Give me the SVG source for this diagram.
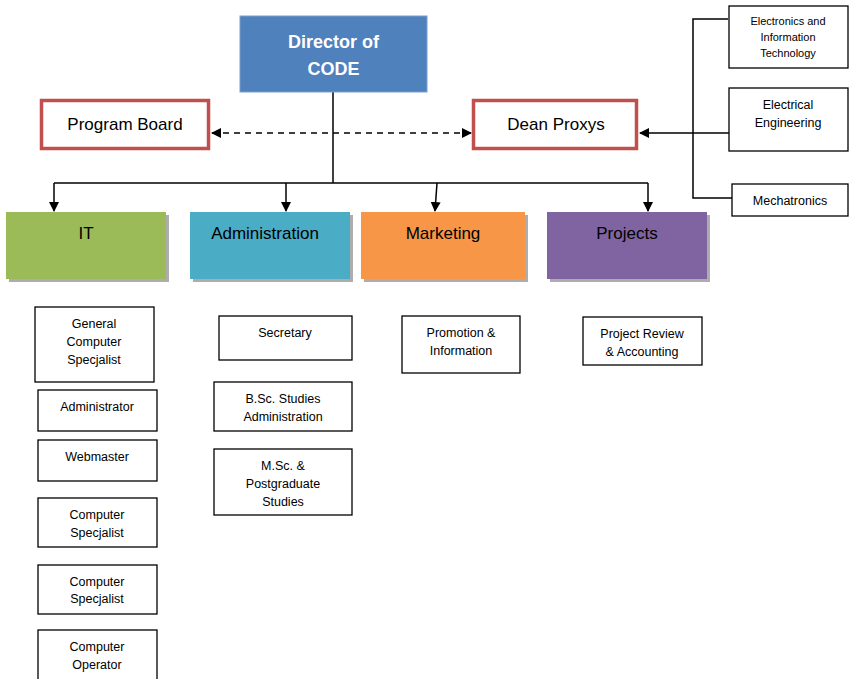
<svg xmlns="http://www.w3.org/2000/svg" width="849" height="679" viewBox="0 0 849 679">
<defs>
<style>
text{font-family:"Liberation Sans",Arial,sans-serif;text-anchor:middle;fill:#000}
.sub{fill:#fff;stroke:#000;stroke-width:1.3}
.st{font-size:12.5px}
.sm{font-size:11px}
.hd{font-size:17px}
.red{fill:#fff;stroke:#C0504D;stroke-width:3.5}
.sh{fill:#999;opacity:0.8}
.ln{fill:none;stroke:#000;stroke-width:1.5}
</style>
<marker id="ah" markerWidth="10" markerHeight="10" refX="9" refY="5" orient="auto-start-reverse" markerUnits="userSpaceOnUse">
<path d="M0,0 L10,5 L0,10 z" fill="#000"/>
</marker>
</defs>
<rect width="849" height="679" fill="#fff"/>
<g id="connectors">
<path class="ln" d="M333,92 V183"/>
<path class="ln" d="M54,183 H648"/>
<path class="ln" d="M54,183 V211" marker-end="url(#ah)"/>
<path class="ln" d="M286,183 V211" marker-end="url(#ah)"/>
<path class="ln" d="M437,183 L435,211" marker-end="url(#ah)"/>
<path class="ln" d="M648,183 V211" marker-end="url(#ah)"/>
<path class="ln" d="M471,133 H212" stroke-dasharray="6,5" marker-start="url(#ah)" marker-end="url(#ah)"/>
<path class="ln" d="M728,19 H693 V198 H732"/>
<path class="ln" d="M729,133 H640" marker-end="url(#ah)"/>
</g>
<g id="director">
<rect x="240" y="16" width="187" height="76" fill="#4F81BD" stroke="#7BA0CD" stroke-width="1"/>
<text x="333.5" y="48" style="font-size:18px;font-weight:bold;fill:#fff">Director of</text>
<text x="333.5" y="75" style="font-size:18px;font-weight:bold;fill:#fff">CODE</text>
</g>
<g id="program-board">
<rect class="red" x="41.5" y="100.5" width="167" height="48"/>
<text class="hd" x="125" y="130">Program Board</text>
</g>
<g id="dean-proxys">
<rect class="red" x="473.5" y="100.5" width="163" height="48"/>
<text class="hd" x="556" y="130">Dean Proxys</text>
</g>
<g id="it">
<rect class="sh" x="9" y="215" width="160" height="67"/>
<rect x="6" y="212" width="160" height="67" fill="#9BBB59"/>
<text class="hd" x="86" y="239">IT</text>
</g>
<g id="administration">
<rect class="sh" x="193" y="215" width="160" height="67"/>
<rect x="190" y="212" width="160" height="67" fill="#4BACC6"/>
<text class="hd" x="265" y="239">Administration</text>
</g>
<g id="marketing">
<rect class="sh" x="364" y="215" width="164" height="67"/>
<rect x="361" y="212" width="164" height="67" fill="#F79646"/>
<text class="hd" x="443" y="239">Marketing</text>
</g>
<g id="projects">
<rect class="sh" x="550" y="215" width="160" height="67"/>
<rect x="547" y="212" width="160" height="67" fill="#8064A2"/>
<text class="hd" x="627" y="239">Projects</text>
</g>
<g id="electronics">
<rect class="sub" x="729" y="6" width="119" height="62"/>
<text class="sm" x="788" y="25">Electronics and</text>
<text class="sm" x="788" y="41">Information</text>
<text class="sm" x="788" y="57">Technology</text>
</g>
<g id="electrical">
<rect class="sub" x="729" y="88" width="119" height="63"/>
<text class="st" x="788" y="109">Electrical</text>
<text class="st" x="788" y="127">Engineering</text>
</g>
<g id="mechatronics">
<rect class="sub" x="732" y="184" width="116" height="32"/>
<text class="st" x="790" y="205">Mechatronics</text>
</g>
<g id="general-computer-specjalist">
<rect class="sub" x="35" y="307" width="119" height="75"/>
<text class="st" x="94" y="328">General</text>
<text class="st" x="94" y="346">Computer</text>
<text class="st" x="94" y="364">Specjalist</text>
</g>
<g id="administrator">
<rect class="sub" x="38" y="390" width="119" height="41"/>
<text class="st" x="97" y="411">Administrator</text>
</g>
<g id="webmaster">
<rect class="sub" x="38" y="440" width="119" height="41"/>
<text class="st" x="97" y="461">Webmaster</text>
</g>
<g id="computer-specjalist-1">
<rect class="sub" x="38" y="498" width="119" height="49"/>
<text class="st" x="97" y="519">Computer</text>
<text class="st" x="97" y="537">Specjalist</text>
</g>
<g id="computer-specjalist-2">
<rect class="sub" x="38" y="565" width="119" height="49"/>
<text class="st" x="97" y="586">Computer</text>
<text class="st" x="97" y="603">Specjalist</text>
</g>
<g id="computer-operator">
<rect class="sub" x="38" y="630" width="119" height="52"/>
<text class="st" x="97" y="651">Computer</text>
<text class="st" x="97" y="669">Operator</text>
</g>
<g id="secretary">
<rect class="sub" x="219" y="316" width="133" height="44"/>
<text class="st" x="285" y="337">Secretary</text>
</g>
<g id="bsc">
<rect class="sub" x="214" y="382" width="138" height="49"/>
<text class="st" x="283" y="403">B.Sc. Studies</text>
<text class="st" x="283" y="421">Administration</text>
</g>
<g id="msc">
<rect class="sub" x="214" y="449" width="138" height="66"/>
<text class="st" x="283" y="470">M.Sc. &amp;</text>
<text class="st" x="283" y="488">Postgraduate</text>
<text class="st" x="283" y="506">Studies</text>
</g>
<g id="promotion">
<rect class="sub" x="402" y="316" width="118" height="57"/>
<text class="st" x="461" y="337">Promotion &amp;</text>
<text class="st" x="461" y="355">Information</text>
</g>
<g id="project-review">
<rect class="sub" x="583" y="317" width="119" height="48"/>
<text class="st" x="642" y="338">Project Review</text>
<text class="st" x="642" y="356">&amp; Accounting</text>
</g>
</svg>
